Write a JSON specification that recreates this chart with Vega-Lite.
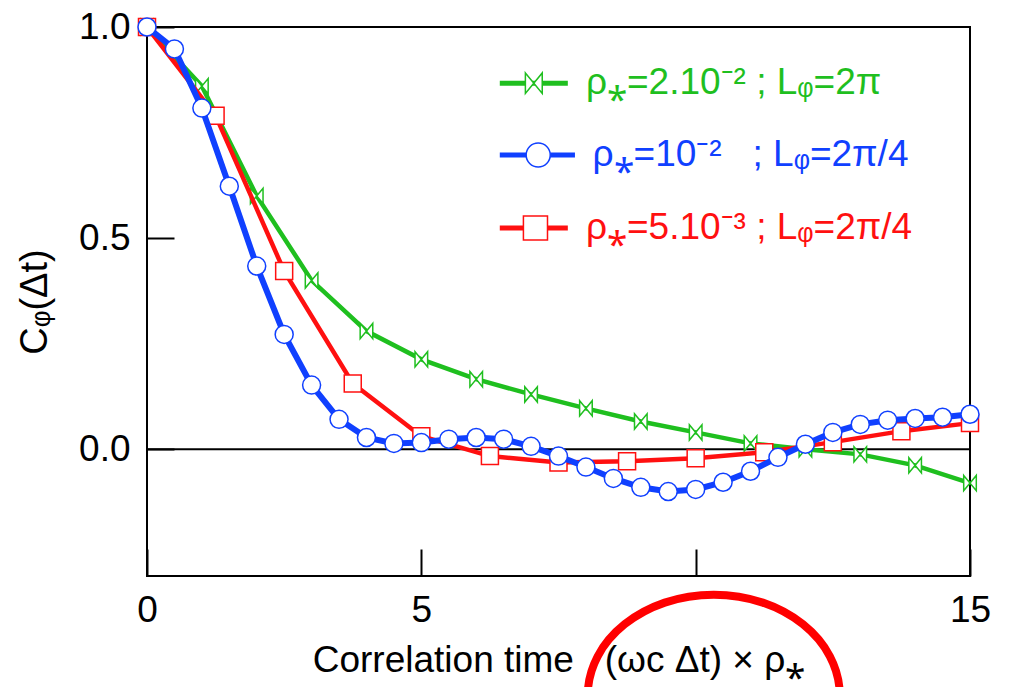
{
  "$schema": "https://vega.github.io/schema/vega-lite/v6.json",
  "width": 823,
  "height": 549,
  "autosize": {"type": "none"},
  "padding": {"left": 147, "top": 27, "right": 41, "bottom": 111},
  "background": "white",
  "config": {
    "font": "Liberation Sans",
    "view": {"stroke": "black", "strokeWidth": 2},
    "axis": {"grid": false, "domainColor": "black", "domainWidth": 2, "tickColor": "black", "tickWidth": 2, "labelColor": "black", "titleColor": "black", "labelFontSize": 37, "titleFontSize": 37, "titleFontWeight": "normal", "labelFont": "Liberation Sans", "titleFont": "Liberation Sans", "labelFlush": false}
  },
  "datasets": {
    "curves": [
      {"s":"g","t":0,"c":1.0},{"s":"g","t":1,"c":0.86},{"s":"g","t":2,"c":0.60},{"s":"g","t":3,"c":0.40},{"s":"g","t":4,"c":0.28},{"s":"g","t":5,"c":0.213},{"s":"g","t":6,"c":0.166},{"s":"g","t":7,"c":0.13},{"s":"g","t":8,"c":0.097},{"s":"g","t":9,"c":0.066},{"s":"g","t":10,"c":0.04},{"s":"g","t":11,"c":0.014},{"s":"g","t":12,"c":0.0},{"s":"g","t":13,"c":-0.012},{"s":"g","t":14,"c":-0.038},{"s":"g","t":15,"c":-0.08},
      {"s":"b","t":0,"c":1.0},{"s":"b","t":0.5,"c":0.948},{"s":"b","t":1,"c":0.808},{"s":"b","t":1.5,"c":0.623},{"s":"b","t":2,"c":0.434},{"s":"b","t":2.5,"c":0.272},{"s":"b","t":3,"c":0.152},{"s":"b","t":3.5,"c":0.071},{"s":"b","t":4,"c":0.028},{"s":"b","t":4.5,"c":0.014},{"s":"b","t":5,"c":0.016},{"s":"b","t":5.5,"c":0.024},{"s":"b","t":6,"c":0.028},{"s":"b","t":6.5,"c":0.024},{"s":"b","t":7,"c":0.007},{"s":"b","t":7.5,"c":-0.016},{"s":"b","t":8,"c":-0.042},{"s":"b","t":8.5,"c":-0.069},{"s":"b","t":9,"c":-0.09},{"s":"b","t":9.5,"c":-0.1},{"s":"b","t":10,"c":-0.095},{"s":"b","t":10.5,"c":-0.078},{"s":"b","t":11,"c":-0.052},{"s":"b","t":11.5,"c":-0.019},{"s":"b","t":12,"c":0.012},{"s":"b","t":12.5,"c":0.04},{"s":"b","t":13,"c":0.059},{"s":"b","t":13.5,"c":0.069},{"s":"b","t":14,"c":0.073},{"s":"b","t":14.5,"c":0.076},{"s":"b","t":15,"c":0.083},
      {"s":"r","t":0,"c":1.0},{"s":"r","t":1.25,"c":0.79},{"s":"r","t":2.5,"c":0.422},{"s":"r","t":3.75,"c":0.156},{"s":"r","t":5,"c":0.031},{"s":"r","t":6.25,"c":-0.016},{"s":"r","t":7.5,"c":-0.031},{"s":"r","t":8.75,"c":-0.028},{"s":"r","t":10,"c":-0.021},{"s":"r","t":11.25,"c":-0.007},{"s":"r","t":12.5,"c":0.017},{"s":"r","t":13.75,"c":0.043},{"s":"r","t":15,"c":0.062}
    ],
    "legend": [
      {"s":"g","x1":6.43,"x2":7.67,"xm":7.05,"xt":8.0,"y":0.867,"label":"ρ⁎=2.10⁻² ; Lᵩ=2π"},
      {"s":"b","x1":6.43,"x2":7.8,"xm":7.13,"xt":8.12,"y":0.697,"label":"ρ⁎=10⁻²\u00a0\u00a0\u00a0; Lᵩ=2π/4"},
      {"s":"r","x1":6.43,"x2":7.67,"xm":7.08,"xt":8.0,"y":0.524,"label":"ρ⁎=5.10⁻³ ; Lᵩ=2π/4"}
    ],
    "zero": [{"c":0}],
    "note": [{"t":10.33,"c":-0.583}]
  },
  "layer": [
    {
      "data": {"name": "zero"},
      "mark": {"type": "rule", "color": "black", "strokeWidth": 2},
      "encoding": {"y": {"field": "c", "type": "quantitative", "scale": {"domain": [-0.3, 1.0], "nice": false, "zero": false},
        "axis": {"values": [0, 0.5, 1], "format": ".1f", "title": "Cᵩ(Δt)", "titleFontSize": 38, "tickSize": -27, "labelPadding": 44, "titlePadding": 24, "domain": false}}}
    },
    {
      "data": {"name": "curves"},
      "transform": [{"filter": "datum.s == 'g'"}],
      "mark": {"type": "line", "strokeWidth": 4.5},
      "encoding": {
        "x": {"field": "t", "type": "quantitative", "scale": {"domain": [0, 15], "nice": false, "zero": false},
          "axis": {"values": [0, 5, 10, 15], "labelExpr": "datum.value == 10 ? '' : datum.label", "title": "Correlation time\u00a0\u00a0\u00a0(ωc Δt) × ρ⁎", "tickSize": -27, "labelPadding": 43, "titlePadding": 14, "domain": false}},
        "y": {"field": "c", "type": "quantitative"},
        "color": {"field": "s", "type": "nominal", "scale": {"domain": ["g", "b", "r"], "range": ["#1fbf1f", "#1040ff", "#ff1010"]}, "legend": null}
      }
    },
    {
      "data": {"name": "curves"},
      "transform": [{"filter": "datum.s == 'g'"}],
      "mark": {"type": "point", "filled": false, "fill": "white", "fillOpacity": 1, "opacity": 1, "strokeWidth": 1.5, "size": 324},
      "encoding": {
        "x": {"field": "t", "type": "quantitative"},
        "y": {"field": "c", "type": "quantitative"},
        "color": {"field": "s", "type": "nominal", "legend": null},
        "shape": {"field": "s", "type": "nominal", "scale": {"domain": ["g", "b", "r"], "range": ["M-0.7,-0.85L0.7,0.85L0.7,-0.85L-0.7,0.85Z", "circle", "square"]}, "legend": null}
      }
    },
    {
      "data": {"name": "curves"},
      "transform": [{"filter": "datum.s == 'r'"}],
      "mark": {"type": "line", "strokeWidth": 4.5},
      "encoding": {
        "x": {"field": "t", "type": "quantitative"},
        "y": {"field": "c", "type": "quantitative"},
        "color": {"field": "s", "type": "nominal", "legend": null}
      }
    },
    {
      "data": {"name": "curves"},
      "transform": [{"filter": "datum.s == 'r'"}],
      "mark": {"type": "point", "filled": false, "fill": "white", "fillOpacity": 1, "opacity": 1, "strokeWidth": 1.5, "size": 289},
      "encoding": {
        "x": {"field": "t", "type": "quantitative"},
        "y": {"field": "c", "type": "quantitative"},
        "color": {"field": "s", "type": "nominal", "legend": null},
        "shape": {"field": "s", "type": "nominal", "legend": null}
      }
    },
    {
      "data": {"name": "curves"},
      "transform": [{"filter": "datum.s == 'b'"}],
      "mark": {"type": "line", "strokeWidth": 6},
      "encoding": {
        "x": {"field": "t", "type": "quantitative"},
        "y": {"field": "c", "type": "quantitative"},
        "color": {"field": "s", "type": "nominal", "legend": null}
      }
    },
    {
      "data": {"name": "curves"},
      "transform": [{"filter": "datum.s == 'b'"}],
      "mark": {"type": "point", "filled": false, "fill": "white", "fillOpacity": 1, "opacity": 1, "strokeWidth": 1.5, "size": 324},
      "encoding": {
        "x": {"field": "t", "type": "quantitative"},
        "y": {"field": "c", "type": "quantitative"},
        "color": {"field": "s", "type": "nominal", "legend": null},
        "shape": {"field": "s", "type": "nominal", "legend": null}
      }
    },
    {
      "data": {"name": "legend"},
      "mark": {"type": "rule", "strokeWidth": 5},
      "encoding": {
        "x": {"field": "x1", "type": "quantitative"},
        "x2": {"field": "x2"},
        "y": {"field": "y", "type": "quantitative"},
        "color": {"field": "s", "type": "nominal", "legend": null}
      }
    },
    {
      "data": {"name": "legend"},
      "mark": {"type": "point", "filled": false, "fill": "white", "fillOpacity": 1, "opacity": 1, "strokeWidth": 1.5, "size": 580},
      "encoding": {
        "x": {"field": "xm", "type": "quantitative"},
        "y": {"field": "y", "type": "quantitative"},
        "color": {"field": "s", "type": "nominal", "legend": null},
        "shape": {"field": "s", "type": "nominal", "legend": null}
      }
    },
    {
      "data": {"name": "legend"},
      "mark": {"type": "text", "align": "left", "baseline": "middle", "fontSize": 37, "font": "Liberation Sans"},
      "encoding": {
        "x": {"field": "xt", "type": "quantitative"},
        "y": {"field": "y", "type": "quantitative"},
        "text": {"field": "label"},
        "color": {"field": "s", "type": "nominal", "legend": null}
      }
    },
    {
      "data": {"name": "note"},
      "mark": {"type": "point", "shape": "M-1,0A1,0.8 0 1,1 1,0A1,0.8 0 1,1 -1,0Z", "filled": false, "color": "#ff0000", "strokeWidth": 8, "size": 63504, "opacity": 1, "clip": false},
      "encoding": {
        "x": {"field": "t", "type": "quantitative"},
        "y": {"field": "c", "type": "quantitative"}
      }
    }
  ]
}
